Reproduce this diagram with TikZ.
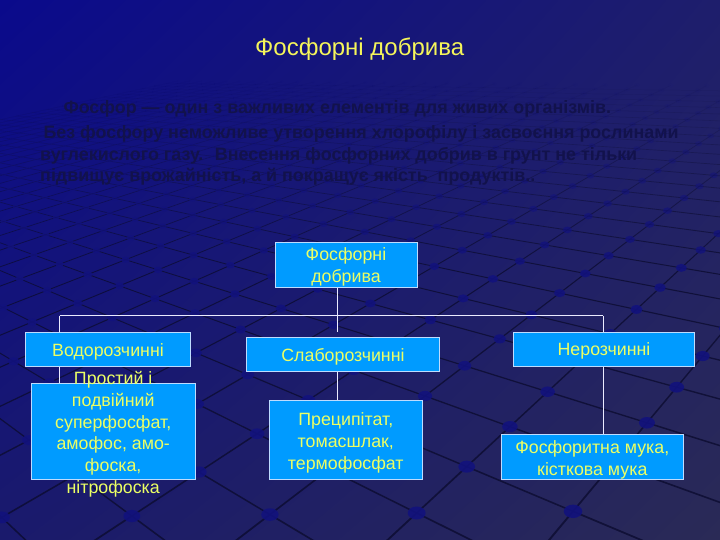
\documentclass[tikz,border=0pt]{standalone}
\usepackage{fontspec}
\setmainfont{Liberation Sans}
\usetikzlibrary{shadings}
\definecolor{bgUL}{RGB}{10,10,140}
\definecolor{bgUR}{RGB}{30,30,108}
\definecolor{bgLL}{RGB}{26,26,108}
\definecolor{bgLR}{RGB}{42,42,86}
\definecolor{gridc}{RGB}{12,12,48}
\definecolor{dotc}{RGB}{18,18,125}
\definecolor{boxfill}{RGB}{0,155,255}
\definecolor{boxline}{RGB}{190,220,255}
\definecolor{boxtext}{RGB}{235,255,100}
\definecolor{titlec}{RGB}{245,245,90}
\definecolor{bodyc}{RGB}{18,18,76}
\definecolor{connc}{RGB}{235,235,255}
\tikzset{
  box/.style={draw=boxline, line width=1pt, fill=boxfill, inner sep=0pt},
  boxtxt/.style={text=boxtext, font=\fontsize{17.8}{21.8}\selectfont, align=center, inner sep=0pt},
  conn/.style={draw=connc, line width=1pt},
  body/.style={text=bodyc, font=\fontsize{17.9}{21}\selectfont\bfseries, inner sep=0pt, anchor=base west},
  titlestyle/.style={text=titlec, font=\fontsize{24}{27}\selectfont, inner sep=0pt, anchor=base},
}
\begin{document}
\begin{tikzpicture}[x=1pt,y=-1pt]
\useasboundingbox (0,0) rectangle (720,540);
\shade[upper left=bgUL, upper right=bgUR, lower left=bgLL, lower right=bgLR] (0,0) rectangle (720,540);
% perspective grid
\begin{scope}
\clip (0,0) rectangle (720,540);
\foreach \u in {-30,...,2}{
  \foreach \v in {-5,...,25}{
    \pgfmathsetmacro{\wa}{1-0.1105*\u+0.079*\v}
    \pgfmathsetmacro{\xa}{(416.7+51.38*\u+86.9*\v)/\wa}
    \pgfmathsetmacro{\ya}{(513-8.29*\u-9.48*\v)/\wa}
    \pgfmathsetmacro{\wb}{\wa-0.1105}
    \pgfmathsetmacro{\xb}{(416.7+51.38*(\u+1)+86.9*\v)/\wb}
    \pgfmathsetmacro{\yb}{(513-8.29*(\u+1)-9.48*\v)/\wb}
    \pgfmathsetmacro{\wc}{\wa+0.079}
    \pgfmathsetmacro{\xc}{(416.7+51.38*\u+86.9*(\v+1))/\wc}
    \pgfmathsetmacro{\yc}{(513-8.29*\u-9.48*(\v+1))/\wc}
    \pgfmathsetmacro{\opa}{0.8*max(0,min(1,((\ya+\yb)/2-70)/200))}
    \pgfmathsetmacro{\opc}{0.8*max(0,min(1,((\ya+\yc)/2-70)/200))}
    \pgfmathsetmacro{\lw}{min(2.3,1.7/\wa)}
    \draw[gridc, line width=\lw pt, opacity=\opa] (\xa,\ya) -- (\xb,\yb);
    \draw[gridc, line width=\lw pt, opacity=\opc] (\xa,\ya) -- (\xc,\yc);
  }
}
\foreach \u in {-30,...,3}{
  \foreach \v in {-5,...,26}{
    \pgfmathsetmacro{\wa}{1-0.1105*\u+0.079*\v}
    \pgfmathsetmacro{\xa}{(416.7+51.38*\u+86.9*\v)/\wa}
    \pgfmathsetmacro{\ya}{(513-8.29*\u-9.48*\v)/\wa}
    \pgfmathsetmacro{\opd}{0.9*max(0,min(1,(\ya-70)/200))}
    \pgfmathsetmacro{\rx}{min(11,9/\wa)}
    \pgfmathsetmacro{\ry}{min(8,6.5/\wa)}
    \fill[dotc, opacity=\opd] (\xa,\ya) ellipse [x radius=\rx pt, y radius=\ry pt];
  }
}
\end{scope}
% title and text
\node[titlestyle] (ttl) at (359.7,56) {Фосфорні добрива};
\node[body] (l1) at (63.3,114) {Фосфор — один з важливих елементів для живих організмів.};
\node[body] (l2) at (43.3,138.5) {Без фосфору неможливе утворення хлорофілу і засвоєння рослинами};
\node[body] (l3) at (40,160.5) {вуглекислого газу.~ Внесення фосфорних добрив в грунт не тільки};
\node[body] (l4) at (40,182) {підвищує врожайність, а й покращує якість~ продуктів..};
% connector helper points
\coordinate (hl) at (59.5,315.5);
\coordinate (hm) at (337.7,315.5);
\coordinate (hr) at (603,315.5);
\coordinate (mend) at (337.7,332);
% boxes
\node[box, minimum width=142pt, minimum height=45pt] (fd) at (346,264.5) {};
\node[box, minimum width=165pt, minimum height=34pt] (vodo) at (108,349.5) {};
\node[box, minimum width=193pt, minimum height=34.5pt] (slabo) at (343,354.7) {};
\node[box, minimum width=181.4pt, minimum height=33.5pt] (nero) at (604,349.3) {};
\node[box, minimum width=164.3pt, minimum height=96pt] (prost) at (113.2,431.3) {};
\node[box, minimum width=153pt, minimum height=78.6pt] (precip) at (345.8,440) {};
\node[box, minimum width=182pt, minimum height=45.3pt] (fosf) at (592.3,456.7) {};
% connectors
\draw[conn] (hm |- fd.south) -- (mend);
\draw[conn] (hl) -- (hr);
\draw[conn] (hl) -- (hl |- vodo.north);
\draw[conn] (hl |- vodo.south) -- (hl |- prost.north);
\draw[conn] (hm |- slabo.south) -- (hm |- precip.north);
\draw[conn] (hr) -- (hr |- nero.north);
\draw[conn] (hr |- nero.south) -- (hr |- fosf.north);
% box texts
\node[boxtxt] (fdtxt) at ([yshift=-2.5pt]fd.center) {Фосфорні\\добрива};
\node[boxtxt] (vodotxt) at ([yshift=-2pt]vodo.center) {Водорозчинні};
\node[boxtxt] (slabotxt) at ([yshift=-2pt]slabo.center) {Слаборозчинні};
\node[boxtxt] (nerotxt) at ([yshift=-2pt]nero.center) {Нерозчинні};
\node[boxtxt] (prosttxt) at ([yshift=-3pt]prost.center) {Простий і\\подвійний\\суперфосфат,\\амофос, амо-\\фоска,\\нітрофоска};
\node[boxtxt] (preciptxt) at ([yshift=-3pt]precip.center) {Преципітат,\\томасшлак,\\термофосфат};
\node[boxtxt] (fosftxt) at ([yshift=-3pt]fosf.center) {Фосфоритна мука,\\кісткова мука};
\end{tikzpicture}
\end{document}
